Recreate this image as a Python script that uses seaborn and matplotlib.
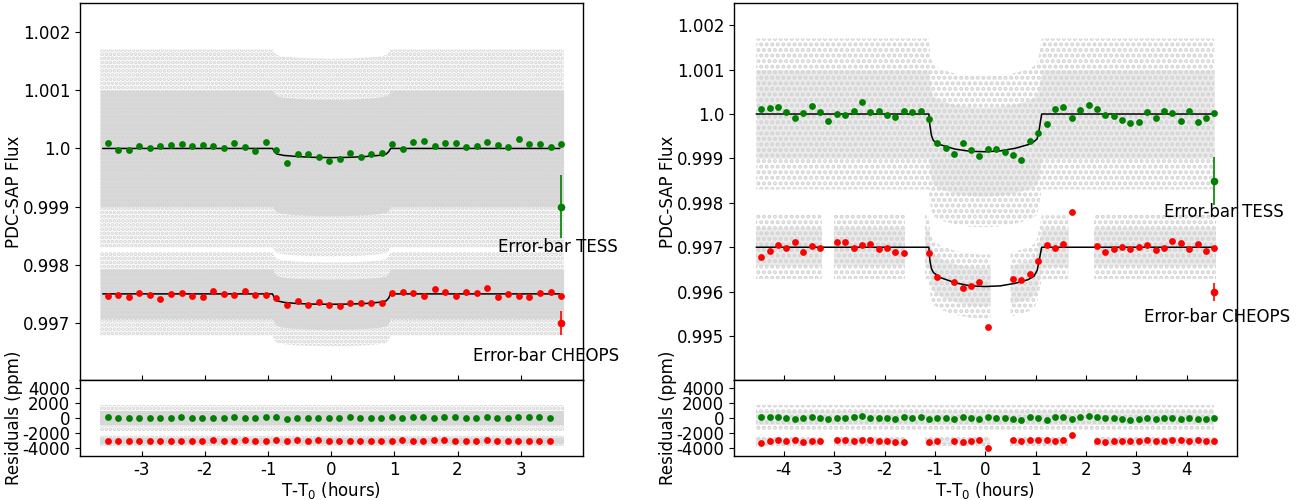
import numpy as np
import matplotlib
matplotlib.use('Agg')
import matplotlib.pyplot as plt
from matplotlib.ticker import MultipleLocator, FuncFormatter
import seaborn as sns

nan = np.nan

# binned light curves, ppm relative to the baseline
# left transit: 10-min bins
t_left = np.linspace(-3.54, 3.64, 44)
tess_l = [92, -23, -23, 34, 0, 46, 52, 69, 34, 57, 34, 0, 92, 17, -40, 115, -29, -246, -103, -97,
          -149, -223, -178, -80, -155, -92, -80, 69, -11, 109, 126, 40, 92, 92, 23, 34, 103, 52, 23, 155,
          69, 69, 23, 74]
cheops_l = [-40, -11, -46, 11, -17, -86, 6, 17, -40, -52, 52, -6, -11, 46, -11, -11, -74, -189, -115, -183,
            -132, -195, -200, -155, -149, -160, -149, 11, 40, 17, -40, 80, 40, -34, 34, 17, 97, -57, 6, -34,
            -52, 11, 34, -34]
t_left_res = np.linspace(-3.54, 3.46, 43)
tess_l_res = [92, -23, -23, 34, 0, 46, 52, 69, 34, 57, 34, 0, 92, 17, -40, 115, 68, -119, 37, 52,
              6, -65, -22, 72, -12, 38, 30, 69, -11, 109, 126, 40, 92, 92, 23, 34, 103, 52, 23, 155,
              69, 69, 23]
cheops_l_res = [-40, -11, -46, 11, -17, -86, 6, 17, -40, -52, 52, -6, -11, 46, -11, -11, 51, -34, 52, -11,
                44, -17, -23, 19, 17, -5, -11, 11, 40, 17, -40, 80, 40, -34, 34, 17, 97, -57, 6, -34,
                -52, 11, 34]

# right transit
t_right = np.linspace(-4.45, 4.55, 55)
tess_r = [113, 135, 158, 53, -83, 23, 180, 53, -165, -8, -30, 68, 278, 38, 60, -30, -68, 75, 45, 75,
          -105, -661, -773, -893, -661, -803, -953, -781, -788, -848, -931, -1028, -601, -420, -225, 113, 150, -98, 98, 203,
          105, -30, -45, -128, -203, -173, 53, -83, 60, 23, -150, 60, -173, -90, 30]
cheops_r = [-225, -83, 45, -23, 120, -98, 23, -23, nan, 113, 113, -8, 53, 75, -38, -8, -113, -120, nan, nan,
            -128, -676, nan, -773, -923, -878, -773, -1794, nan, nan, -713, -743, -593, -308, 53, -8, 68, 796, nan, nan,
            38, -113, -45, 15, -38, 0, 45, -60, -23, 135, 98, -38, 83, -75, -23]
tess_r_res = [113, 135, 158, 53, -83, 23, 180, 53, -165, -8, -30, 68, 278, 38, 60, -30, -68, 75, 45, 75,
              -85, 4, -43, -108, 154, 37, -107, 68, 48, -33, -151, -295, 74, 40, -225, 113, 150, -98, 98, 203,
              105, -30, -45, -128, -203, -173, 53, -83, 60, 23, -150, 60, -173, -90, 30]
cheops_r_res = [-225, -83, 45, -23, 120, -98, 23, -23, nan, 113, 113, -8, 53, 75, -38, -8, -113, -120, nan, nan,
                -100, -20, nan, 22, -108, -36, 107, -910, nan, nan, 107, 27, 122, 112, 53, -8, 68, 796, nan, nan,
                38, -113, -45, 15, -38, 0, 45, -60, -23, 135, 98, -38, 83, -75, -23]

# transit models (breakpoints, ppm)
mod_l_t = [-3.62, -0.93, -0.9, -0.86, -0.75, -0.55, -0.3, 0, 0.3, 0.55, 0.75, 0.87, 0.91, 0.94, 3.62]
mod_l_tess = [0, 0, -55, -97, -120, -138, -152, -158, -152, -138, -120, -97, -55, 0, 0]
mod_l_cheops = [0, 0, -70, -120, -145, -165, -175, -178, -175, -165, -145, -120, -70, 0, 0]
mod_r_t = [-4.55, -1.12, -1.1, -1.07, -1.03, -0.9, -0.6, -0.3, 0, 0.3, 0.6, 0.85, 0.97, 1.03, 1.07, 1.12, 4.55]
mod_r_tess = [0, 0, -250, -480, -600, -690, -790, -840, -850, -830, -770, -690, -620, -560, -350, 0, 0]
mod_r_cheops = [0, 0, -300, -480, -570, -680, -800, -870, -885, -870, -810, -730, -650, -520, -300, 0, 0]

# time ranges covered by the unbinned points
segs_l = [(-3.66, 3.68)]
segs_r = [(-4.55, 4.55)]
segs_r_cheops = [(-4.55, -3.25), (-3.0, -1.6), (-1.2, 0.1), (0.5, 1.65), (2.15, 4.58)]

sns.set_style('ticks')
plt.rcParams.update({
    'font.family': ['DejaVu Sans'], 'font.size': 12, 'axes.unicode_minus': False,
    'axes.edgecolor': 'black', 'xtick.color': 'black', 'ytick.color': 'black',
    'text.color': 'black', 'axes.labelcolor': 'black', 'axes.linewidth': 1.0,
    'xtick.labelsize': 12, 'ytick.labelsize': 12, 'axes.labelsize': 12,
    'hatch.linewidth': 2.0,
})

GRAY = '#d3d3d3'


def cloud(ax, mt, mf, base, scale, segs, core, outer, a_core, hatch):
    # unbinned points: solid grey core plus a dotted fringe around the model
    for a, b in segs:
        tt = [a] + [t for t in mt if a < t < b] + [b]
        ff = base + np.interp(tt, mt, mf) * scale
        ax.fill_between(tt, ff - outer * scale, ff + outer * scale, facecolor='none',
                        edgecolor=GRAY, hatch=hatch, lw=0, zorder=1)
        ax.fill_between(tt, ff - core * scale, ff + core * scale, color=GRAY, alpha=a_core, lw=0, zorder=1)


def panel(x0, tb, tb_res, tess, cheops, tess_res, cheops_res, mt, m_tess, m_cheops,
          segs, segs_c, ylim, xlim, err_x, base_c, tess_err_y, cheops_err_y, a_core, hatch):
    ax = fig.add_axes([x0, 0.24, 0.3845, 0.754])
    rx = fig.add_axes([x0, 0.088, 0.3845, 0.152])

    cloud(ax, mt, m_tess, 1.0, 1e-6, segs, 1000, 1700, a_core, hatch)
    cloud(ax, mt, m_cheops, base_c, 1e-6, segs_c, 430, 720, a_core, hatch)
    flat_t = [xlim[0], xlim[1]]
    cloud(rx, flat_t, [0, 0], 0, 1, segs, 950, 1650, a_core, hatch)
    cloud(rx, flat_t, [0, 0], -3000, 1, segs_c, 420, 700, a_core, hatch)

    sns.lineplot(x=mt, y=1.0 + np.array(m_tess) * 1e-6, color='black', lw=1.1,
                 estimator=None, sort=False, ax=ax, zorder=3)
    sns.lineplot(x=mt, y=base_c + np.array(m_cheops) * 1e-6, color='black', lw=1.1,
                 estimator=None, sort=False, ax=ax, zorder=3)
    sns.scatterplot(x=tb, y=1.0 + np.array(tess) * 1e-6, color='green', s=24, linewidth=0, ax=ax, zorder=4)
    sns.scatterplot(x=tb, y=base_c + np.array(cheops) * 1e-6, color='red', s=24, linewidth=0, ax=ax, zorder=4)
    ax.errorbar(err_x, tess_err_y, yerr=0.00054, fmt='o', color='green', ms=4.5, elinewidth=1.2, zorder=5)
    ax.errorbar(err_x, cheops_err_y, yerr=0.0002, fmt='o', color='red', ms=4.5, elinewidth=1.2, zorder=5)
    ax.text(err_x - 1.0, tess_err_y - 0.0007, 'Error-bar TESS', ha='left', va='center', fontsize=12, zorder=6)
    ax.text(err_x - 1.4, cheops_err_y - 0.00057, 'Error-bar CHEOPS', ha='left', va='center', fontsize=12, zorder=6)

    sns.scatterplot(x=tb_res, y=np.array(tess_res), color='green', s=24, linewidth=0, ax=rx, zorder=4)
    sns.scatterplot(x=tb_res, y=np.array(cheops_res) - 3000, color='red', s=24, linewidth=0, ax=rx, zorder=4)

    ax.set_xlim(xlim)
    rx.set_xlim(xlim)
    ax.set_ylim(ylim)
    rx.set_ylim(-5000, 5000)
    ax.yaxis.set_major_locator(MultipleLocator(0.001))
    ax.yaxis.set_major_formatter(FuncFormatter(lambda v, p: str(round(v, 3))))
    ax.xaxis.set_major_locator(MultipleLocator(1))
    rx.xaxis.set_major_locator(MultipleLocator(1))
    rx.set_yticks([-4000, -2000, 0, 2000, 4000])
    ax.tick_params(axis='x', direction='in', labelbottom=False)
    rx.tick_params(axis='x', direction='in')
    ax.set_ylabel('PDC-SAP Flux')
    rx.set_ylabel('Residuals (ppm)')
    rx.set_xlabel('T-T$_0$ (hours)', labelpad=1)
    ax.yaxis.set_label_coords(-0.113, 0.5)
    rx.yaxis.set_label_coords(-0.113, 0.5)
    return ax, rx


fig = plt.figure(figsize=(13.07, 5), dpi=100)

panel(0.0612, t_left, t_left_res, tess_l, cheops_l, tess_l_res, cheops_l_res,
      mod_l_t, mod_l_tess, mod_l_cheops, segs_l, segs_l, (0.99602, 1.0025), (-3.98, 3.98),
      3.64, 0.9975, 0.999, 0.997, 0.8, '....')
panel(0.5616, t_right, t_right, tess_r, cheops_r, tess_r_res, cheops_r_res,
      mod_r_t, mod_r_tess, mod_r_cheops, segs_r, segs_r_cheops, (0.99401, 1.0025), (-4.99, 4.99),
      4.55, 0.997, 0.9985, 0.996, 0.45, '...')

fig.savefig('out.png', dpi=100)
